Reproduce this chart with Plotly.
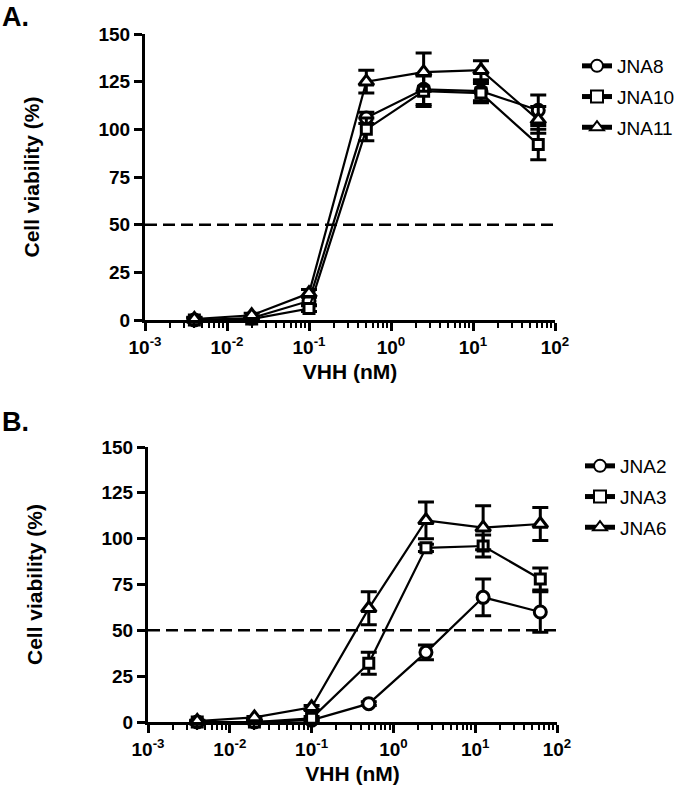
import plotly.graph_objects as go

# Concentrations (nM)
conc = [0.004, 0.02, 0.1, 0.5, 2.5, 12.5, 62.5]

# Panel A
jna8 = [0, 1, 10, 106, 121, 120, 110]
jna8_err = [1, 0.5, 2, 3, 8, 5, 8]
jna10 = [0, 0.5, 6, 100, 120, 119, 92]
jna10_err = [1, 0.5, 1.5, 6, 8, 5, 8]
jna11 = [0.5, 2.5, 14, 125, 130, 131, 105]
jna11_err = [1, 1, 2, 6, 10, 5, 7]

# Panel B
jna2 = [0, 0, 1, 10, 38, 68, 60]
jna2_err = [0.5, 0.5, 0.5, 1, 4, 10, 11]
jna3 = [0, 0, 2, 32, 95, 96, 78]
jna3_err = [0.5, 0.5, 1, 6, 2, 6, 6]
jna6 = [0.5, 2.5, 8, 62, 110, 106, 108]
jna6_err = [0.5, 0.5, 1, 9, 10, 12, 9]

yticks = [0, 25, 50, 75, 100, 125, 150]
xtickvals = [0.001, 0.01, 0.1, 1, 10, 100]
xticktext = ["10<sup>-3</sup>", "10<sup>-2</sup>", "10<sup>-1</sup>", "10<sup>0</sup>",
             "10<sup>1</sup>", "10<sup>2</sup>"]

FONT = "Liberation Sans, Arial, sans-serif"
W, H = 693, 787

msize_map = {"circle": 12, "square": 10, "triangle-up": 13}

fig = go.Figure()

def add(name, y, err, sym, xa, ya, legend):
    fig.add_trace(go.Scatter(
        x=conc, y=y, name=name, mode="lines+markers",
        xaxis=xa, yaxis=ya, legend=legend, legendgroup=name, cliponaxis=False,
        line=dict(color="black", width=2.2),
        marker=dict(symbol=sym, size=msize_map[sym], color="white",
                    line=dict(color="black", width=3)),
        error_y=dict(type="data", array=err, visible=True, color="black",
                     thickness=3, width=8),
    ))

add("JNA8", jna8, jna8_err, "circle", "x", "y", "legend")
add("JNA10", jna10, jna10_err, "square", "x", "y", "legend")
add("JNA11", jna11, jna11_err, "triangle-up", "x", "y", "legend")
add("JNA2", jna2, jna2_err, "circle", "x2", "y2", "legend2")
add("JNA3", jna3, jna3_err, "square", "x2", "y2", "legend2")
add("JNA6", jna6, jna6_err, "triangle-up", "x2", "y2", "legend2")

def xaxis(domain, anchor):
    return dict(
        type="log", range=[-3, 2], domain=domain, anchor=anchor,
        showline=True, linecolor="black", linewidth=3, showgrid=False, zeroline=False,
        ticks="outside", ticklen=8, tickwidth=2.5, tickcolor="black",
        tickvals=xtickvals, ticktext=xticktext,
        tickfont=dict(family=FONT, size=19, color="black", weight="bold"),
        minor=dict(ticks="outside", ticklen=5, tickwidth=2, tickcolor="black",
                   dtick="D1", showgrid=False),
        title=dict(text="<b>VHH (nM)</b>", font=dict(family=FONT, size=21, color="black"),
                   standoff=8),
        automargin=False,
    )

def yaxis(domain, anchor):
    return dict(
        range=[0, 150], domain=domain, anchor=anchor,
        showline=True, linecolor="black", linewidth=3, showgrid=False, zeroline=False,
        ticks="outside", ticklen=8, tickwidth=2.5, tickcolor="black",
        tickvals=yticks,
        tickfont=dict(family=FONT, size=19, color="black", weight="bold"),
        title=dict(text="<b>Cell viability (%)</b>", font=dict(family=FONT, size=21, color="black"),
                   standoff=54),
        automargin=False,
    )

xA = [145 / W, 555 / W]
yA = [1 - 320 / H, 1 - 34 / H]
xB = [148 / W, 557 / W]
yB = [1 - 722 / H, 1 - 447 / H]

legend_common = dict(
    xanchor="left", yanchor="top", bgcolor="rgba(0,0,0,0)",
    font=dict(family=FONT, size=19, color="black"),
    tracegroupgap=3, itemsizing="constant",
)

fig.update_layout(
    width=W, height=H,
    margin=dict(l=0, r=0, t=0, b=0),
    paper_bgcolor="white", plot_bgcolor="white",
    showlegend=True,
    xaxis=xaxis(xA, "y"),
    yaxis=yaxis(yA, "x"),
    xaxis2=xaxis(xB, "y2"),
    yaxis2=yaxis(yB, "x2"),
    legend=dict(x=577 / W, y=1 - 47 / H, **legend_common),
    legend2=dict(x=580 / W, y=1 - 447 / H, **legend_common),
    shapes=[
        dict(type="line", xref="x domain", x0=0, x1=1, yref="y", y0=50, y1=50,
             line=dict(color="black", width=2.5, dash="12px,6px")),
        dict(type="line", xref="x2 domain", x0=0, x1=1, yref="y2", y0=50, y1=50,
             line=dict(color="black", width=2.5, dash="12px,6px")),
    ],
    annotations=[
        dict(text="<b>A.</b>", x=0, y=1, xref="paper", yref="paper",
             xanchor="left", yanchor="top", showarrow=False,
             font=dict(family=FONT, size=27, color="black")),
        dict(text="<b>B.</b>", x=0, y=1 - 405 / H, xref="paper", yref="paper",
             xanchor="left", yanchor="top", showarrow=False,
             font=dict(family=FONT, size=27, color="black")),
    ],
)

fig.write_html("out.html",
               config={"displayModeBar": False},
               post_script="document.body.style.margin='0';document.body.style.overflow='hidden';")
